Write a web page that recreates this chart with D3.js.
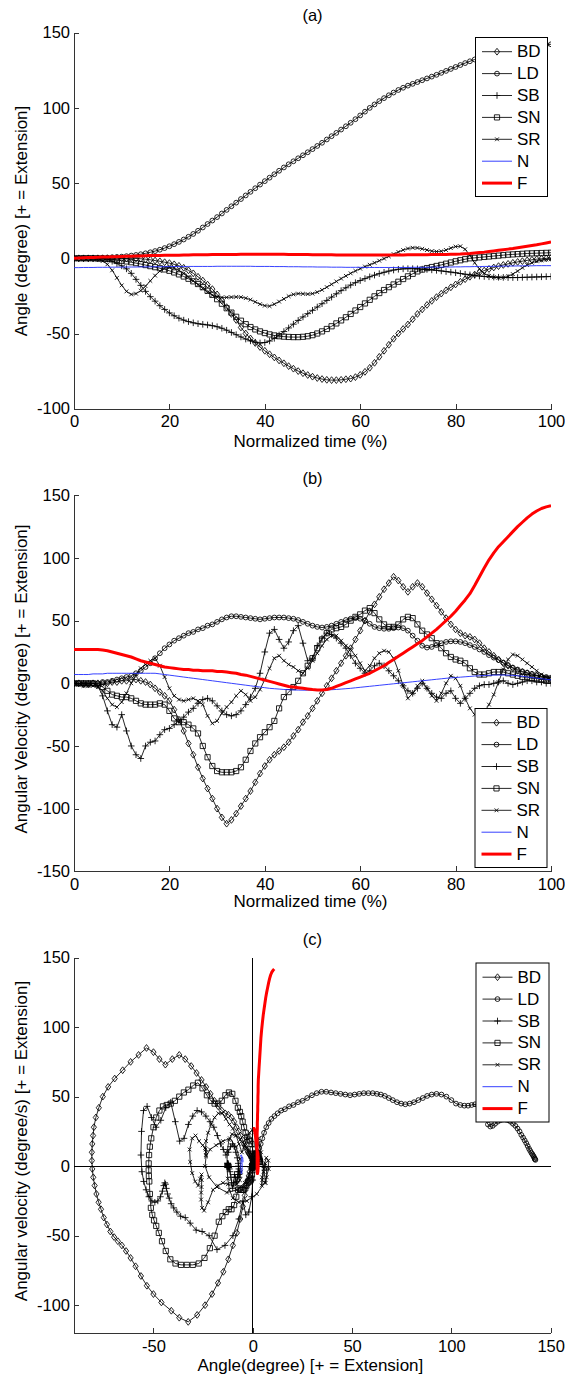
<!DOCTYPE html>
<html>
<head>
<meta charset="utf-8">
<script src="https://cdn.jsdelivr.net/npm/d3@7"></script>
<style>
  body { margin: 0; background: #fff; }
  svg { display: block; font-family: "Liberation Sans", Arial, sans-serif; }
</style>
</head>
<body>
<svg id="fig" width="565" height="1379"></svg>
<script>
// Normalized time samples (0..100 %)
const timePct = d3.range(0, 101);
const seriesNames = ["BD", "LD", "SB", "SN", "SR", "N", "F"];

// Joint angle (degree), one value per percent of normalized time
const angleBD = [
  0, 0, 0, 0, 0, 0, 0, 0, 0, 0,
  0, 0, 0, -0.1, -0.3, -0.6, -1, -1.5, -2, -2.6,
  -3.2, -4, -5, -6.3, -8, -10, -12.3, -14.8, -17.5, -20.5,
  -24, -28, -32.5, -37, -41, -46, -50, -53.3, -56.3, -59,
  -61.5, -63.8, -65.9, -67.9, -69.8, -71.7, -73.4, -75, -76.4, -77.6,
  -78.7, -79.6, -80.3, -80.8, -81, -81, -80.8, -80.4, -80, -79,
  -77.5, -75.5, -72.8, -69.5, -65.5, -61.5, -57.5, -53.5, -50, -47,
  -44, -40.5, -37, -34, -31, -28.3, -25.8, -23.5, -21.3, -19.3,
  -17.4, -15.6, -13.9, -12.3, -10.8, -9.4, -8.2, -7.1, -6.1, -5.2,
  -4.4, -3.7, -3, -2.4, -1.9, -1.4, -1, -0.6, -0.3, 0,
  0.3
];
const angleLD = [
  0, 0, 0.1, 0.1, 0.2, 0.3, 0.4, 0.5, 0.7, 0.9,
  1.1, 1.4, 1.8, 2.2, 2.7, 3.3, 4, 4.8, 5.7, 6.8,
  8, 9.4, 10.9, 12.5, 14.3, 16.2, 18.3, 20.5, 22.8, 25.1,
  27.4, 29.8, 32.2, 34.6, 37, 39.4, 41.8, 44.2, 46.6, 49,
  51.3, 53.6, 55.9, 58.2, 60.4, 62.5, 64.5, 66.5, 68.5, 70.5,
  72.6, 74.7, 76.8, 79, 81.2, 83.4, 85.6, 87.8, 90.1, 92.5,
  95, 97.5, 100, 102.3, 104.5, 106.5, 108.4, 110.2, 111.9, 113.4,
  114.8, 116, 117.2, 118.4, 119.6, 120.8, 122, 123.3, 124.6, 125.9,
  127.2, 128.5, 129.8, 131, 132.2, 133.3, 134.3, 135.2, 136.1, 136.9,
  137.7, 138.4, 139.1, 139.7, 140.3, 140.8, 141.2, 141.6, 141.9, 142.1,
  142.3
];
const angleSB = [
  0, 0, 0, 0, 0, 0, 0, -0.5, -2, -3.5,
  -5, -7, -10, -14, -18, -22, -25.5, -28.5, -31.5, -34,
  -36.3, -38.2, -39.8, -41.1, -42.1, -42.9, -43.5, -43.9, -44.3, -44.8,
  -45.5, -46.5, -47.8, -49.3, -50.8, -52.3, -53.7, -54.9, -55.8, -56.3,
  -56, -55, -53.2, -51, -48.7, -46.3, -43.8, -41.3, -39, -36.8,
  -34.6, -32.4, -30.2, -28, -25.8, -23.6, -21.5, -19.6, -17.8, -16.2,
  -14.8, -13.5, -12.3, -11.2, -10.2, -9.3, -8.5, -7.8, -7.3, -7,
  -6.9, -6.9, -7, -7.2, -7.4, -7.7, -8, -8.4, -8.8, -9.2,
  -9.6, -10.1, -10.6, -11, -11.4, -11.8, -12.1, -12.3, -12.5, -12.6,
  -12.7, -12.8, -12.8, -12.8, -12.7, -12.6, -12.5, -12.4, -12.3, -12.2,
  -12.1
];
const angleSN = [
  0, 0, 0, 0, 0, -0.1, -0.2, -0.4, -0.7, -1.1,
  -1.6, -2.1, -2.6, -3.2, -3.8, -4.5, -5.2, -5.9, -6.6, -7.4,
  -8.3, -9.4, -10.7, -12.1, -13.6, -15.3, -17.1, -19.2, -21.6, -24.3,
  -27.2, -30.2, -33.2, -36.1, -38.9, -41.5, -43.8, -45.7, -47.3, -48.6,
  -49.7, -50.6, -51.3, -51.8, -52.1, -52.3, -52.4, -52.4, -52.2, -51.8,
  -51.1, -50, -48.6, -47, -45.2, -43.3, -41.3, -39.2, -37, -34.7,
  -32.4, -30, -27.6, -25.3, -23.1, -21.1, -19.2, -17.4, -15.6, -13.8,
  -12, -10.3, -8.7, -7.5, -6.5, -5.8, -5.1, -4.4, -3.6, -2.8,
  -2, -1.3, -0.6, 0, 0.3, 0.6, 0.9, 1.2, 1.5, 1.8,
  2.1, 2.4, 2.6, 2.8, 3, 3.2, 3.3, 3.4, 3.5, 3.6,
  3.7
];
const angleSR = [
  0, 0, 0, -0.2, -0.4, -0.8, -1.8, -4, -8, -13,
  -18, -22, -24, -23.5, -21.5, -18.5, -15, -11.5, -8.5, -6.5,
  -6, -6.5, -8, -10, -12.5, -15, -17.5, -20, -22.5, -24.5,
  -25.5, -26, -26, -25.8, -25.7, -25.8, -26.5, -27.5, -29, -30.5,
  -31.5, -31.8, -30.5, -28.8, -27, -25.2, -24, -23.5, -23.6, -23.8,
  -23.5, -22.5, -21, -19.2, -17.3, -15.4, -13.5, -11.7, -10, -8.4,
  -6.9, -5.5, -4.3, -3, -1.6, -0.2, 1.3, 2.8, 4.2, 5.5,
  6.5, 7, 6.9, 6.3, 5.5, 4.8, 4.5, 4.7, 5.5, 6.8,
  7.8, 8, 6, 2, -3, -7, -10, -11.8, -12.6, -13,
  -12.8, -12, -10.5, -8.5, -6.3, -4.5, -3, -2, -1.3, -0.8,
  -0.5
];
const angleN = [
  -6.2, -6.2, -6.1, -6.1, -6.1, -6, -6, -6, -5.9, -5.9,
  -5.9, -5.8, -5.8, -5.8, -5.7, -5.7, -5.7, -5.6, -5.6, -5.6,
  -5.5, -5.5, -5.5, -5.5, -5.4, -5.4, -5.4, -5.4, -5.4, -5.4,
  -5.3, -5.3, -5.3, -5.3, -5.3, -5.3, -5.3, -5.3, -5.4, -5.4,
  -5.4, -5.4, -5.5, -5.5, -5.5, -5.6, -5.6, -5.6, -5.7, -5.7,
  -5.7, -5.8, -5.8, -5.8, -5.9, -5.9, -5.9, -6, -6, -6,
  -6, -6.1, -6.1, -6.1, -6.1, -6.1, -6.1, -6.1, -6.1, -6.1,
  -6.1, -6, -6, -6, -6, -5.9, -5.9, -5.9, -5.8, -5.8,
  -5.7, -5.7, -5.6, -5.6, -5.5, -5.5, -5.4, -5.4, -5.3, -5.3,
  -5.2, -5.2, -5.1, -5.1, -5, -5, -5, -4.9, -4.9, -4.9,
  -4.9
];
const angleF = [
  0, 0.2, 0.4, 0.5, 0.6, 0.7, 0.8, 0.9, 1, 1.1,
  1.2, 1.3, 1.4, 1.5, 1.6, 1.7, 1.8, 1.9, 1.9, 2,
  2, 2.1, 2.1, 2.2, 2.2, 2.3, 2.3, 2.4, 2.4, 2.5,
  2.5, 2.5, 2.6, 2.6, 2.6, 2.7, 2.7, 2.7, 2.7, 2.7,
  2.7, 2.7, 2.7, 2.7, 2.7, 2.6, 2.6, 2.6, 2.5, 2.5,
  2.4, 2.4, 2.3, 2.3, 2.3, 2.2, 2.2, 2.2, 2.2, 2.2,
  2.2, 2.2, 2.2, 2.2, 2.2, 2.2, 2.2, 2.2, 2.2, 2.2,
  2.3, 2.3, 2.3, 2.4, 2.4, 2.5, 2.5, 2.6, 2.6, 2.7,
  2.7, 2.8, 3, 3.2, 3.5, 3.8, 4.1, 4.5, 4.9, 5.3,
  5.7, 6.1, 6.5, 7, 7.5, 8, 8.5, 9, 9.6, 10.2,
  10.8
];

// Angular velocity (degree/s), same time base
const velocityBD = [
  0, 0, -1, -1, 0, 0, 0, 0, 1, 1,
  2, 2, 3, 3, 2, 1, -1, -4, -7, -10,
  -14, -21, -29, -38, -48, -57, -67, -76, -84, -92,
  -100, -107, -112, -109, -104, -98, -92, -86, -79, -72,
  -66, -61, -57, -54, -51, -47, -42, -37, -31, -26,
  -20, -14, -8, -2, 4, 10, 16, 22, 28, 35,
  42, 50, 57, 63, 69, 75, 80, 85, 82, 77,
  73, 77, 80, 77, 72, 67, 62, 57, 52, 47,
  43, 40, 38, 37, 35, 32, 28, 25, 22, 19,
  16, 14, 12, 10, 9, 8, 7, 6, 5, 4,
  3
];
const velocityLD = [
  0, 0, 0, 0, 0, 0, 1, 1, 2, 3,
  4, 5, 6, 8, 10, 13, 16, 20, 24, 28,
  31, 34, 36, 38, 40, 41, 43, 44, 46, 47,
  49, 51, 52.5, 53.5, 53.5, 53, 52.5, 52, 51.5, 51,
  51.5, 52, 52.5, 52.5, 52.5, 52, 51.5, 50.5, 49, 47.5,
  46, 45, 44.5, 45, 46, 47.5, 49, 50.5, 51.5, 52,
  51.5, 50, 47.5, 45, 44, 43.5, 43.5, 44, 44.5, 44,
  42, 38, 34, 30, 28.5, 29, 30.5, 32, 33, 33.5,
  33.5, 33, 32, 30.5, 29, 27, 25, 22.5, 20.5, 18.5,
  16.5, 14.5, 12.5, 11, 9.5, 8.5, 7.5, 6.5, 5.5, 5,
  4.5
];
const velocitySB = [
  0, 0, 0, 0, 0, -2, -10, -22, -33, -35,
  -25, -38, -50, -57, -60, -50, -47, -46, -41, -37,
  -36, -33, -30, -27, -23, -20, -16, -13, -12, -14,
  -18, -22, -25, -26, -25, -22, -17, -11, -4, 8,
  25, 40, 43, 35, 28, 33, 42, 46, 32, 18,
  20, 30, 36, 40, 39, 36, 32, 28, 22, 16,
  12, 8, 10, 14, 16, 14, 10, 6, 2, -2,
  -6, -8, -4, 0, -4, -8, -11, -12, -8, -6,
  -12, -16, -12, -8, -4, -2, -1, -1, 0, 1,
  2, 0, -1, 0, 1, 2, 2, 1, 1, 0,
  0
];
const velocitySN = [
  0, 0, 0, 0, 0, -1, -3, -6, -9, -10,
  -11, -11, -12, -14, -16, -17, -17, -17, -16, -17,
  -22, -28, -31, -31, -33, -36, -40, -50, -59, -66,
  -70, -71, -71, -71, -70, -67, -61, -54, -48, -43,
  -39, -35, -30, -20, -11, -7, -3, 2, 8, 14,
  20, 28, 35, 40, 43, 44, 45, 47, 50, 53,
  55, 58, 60, 56, 51, 47, 45, 45, 47, 51,
  53, 52, 47, 42, 39, 36, 32, 28, 24, 21,
  19, 18, 16, 12, 9, 7, 7, 8, 9, 9,
  9, 8, 7, 6, 5, 5, 4, 4, 3, 3,
  3
];
const velocitySR = [
  0, -1, -2, -2, -2, -3, -6, -12, -17, -19,
  -15, -8, 0, 7, 12, 15, 18, 20, 14, 5,
  -4, -10, -13, -14, -13, -12, -14, -17, -26, -32,
  -30, -24, -19, -15, -10, -6, -9, -14, -11, -5,
  3, 12, 20, 22, 18, 15, 13, 10, 8, 12,
  18, 24, 30, 35, 38, 38, 34, 30, 27, 22,
  16, 10, 14, 20, 24, 26, 25, 20, 10, -2,
  -12, -8, -2, 2, -4, -10, -14, -8, 0, 6,
  4, -2, -12, -20, -25, -26, -23, -17, -9, 1,
  11, 19, 23, 22, 19, 16, 13, 10, 7, 5,
  3
];
const velocityN = [
  7, 7, 7, 7, 7.5, 7.5, 7.5, 8, 8, 8,
  8, 8, 8, 8, 8, 8, 8, 8, 7.5, 7,
  6.5, 6, 5.5, 5, 4.5, 4, 3.5, 3, 2.5, 2,
  1.5, 1, 0.5, 0, -0.5, -1, -1.5, -2, -2.5, -3,
  -3.5, -4, -4.3, -4.6, -4.9, -5.1, -5.3, -5.4, -5.5, -5.5,
  -5.5, -5.5, -5.4, -5.3, -5.1, -4.9, -4.6, -4.3, -4, -3.6,
  -3.2, -2.8, -2.4, -2, -1.6, -1.2, -0.8, -0.4, 0, 0.4,
  0.8, 1.2, 1.6, 2, 2.4, 2.8, 3.2, 3.6, 4, 4.3,
  4.6, 4.9, 5.2, 5.5, 5.8, 6, 6.2, 6.4, 6.5, 6.6,
  6.6, 6.5, 6.3, 6, 5.6, 5.1, 4.6, 4.1, 3.6, 3.2,
  2.8
];
const velocityF = [
  27, 27, 27, 27, 27, 27, 26.5, 26, 25, 24,
  23, 22, 21, 19.5, 18, 17, 16, 15, 14, 13,
  12.5, 12, 11.5, 11, 11, 10.5, 10.5, 10, 10, 10,
  9.5, 9.5, 9, 8.5, 8, 7, 6.5, 5.5, 4.5, 3.5,
  2.5, 1.5, 0.5, -0.5, -1.5, -2.5, -3, -3.5, -4, -4.5,
  -5, -5.3, -5.3, -5, -4, -2.5, -1, 0.5, 2, 3.5,
  5, 6.5, 8, 10, 12, 14, 16.5, 19, 21.5, 24,
  26.5, 29, 31.5, 34, 37, 40, 43, 46.5, 50, 53.5,
  57.5, 62, 66.5, 71.5, 78, 85, 92, 98.5, 104, 109,
  113, 117, 121, 125, 128.5, 132, 135, 137.5, 139.5, 140.8,
  141.8
];

// Tick values
const timeTicks = [0, 20, 40, 60, 80, 100];
const angleTicks = [-100, -50, 0, 50, 100, 150];
const velocityTicks = [-150, -100, -50, 0, 50, 100, 150];
const phaseAngleTicks = [-50, 0, 50, 100, 150];
const phaseVelocityTicks = [-100, -50, 0, 50, 100, 150];

const angleBy = { BD: angleBD, LD: angleLD, SB: angleSB, SN: angleSN, SR: angleSR, N: angleN, F: angleF };
const velocityBy = { BD: velocityBD, LD: velocityLD, SB: velocitySB, SN: velocitySN, SR: velocitySR, N: velocityN, F: velocityF };

// Line / marker style per series
const styleBy = {
  BD: { marker: "diamond", color: "#000", width: 0.85 },
  LD: { marker: "circle",  color: "#000", width: 0.85 },
  SB: { marker: "plus",    color: "#000", width: 0.85 },
  SN: { marker: "square",  color: "#000", width: 0.85 },
  SR: { marker: "cross",   color: "#000", width: 0.85 },
  N:  { marker: null,      color: "#1f2bff", width: 0.9 },
  F:  { marker: null,      color: "#ff0000", width: 3 }
};

const series = seriesNames.map(name => ({
  name,
  points: timePct.map((t, i) => ({ t, angle: angleBy[name][i], velocity: velocityBy[name][i] })),
  ...styleBy[name]
}));

function markerPath(type) {
  switch (type) {
    case "diamond": return "M0,-3.4L2.6,0L0,3.4L-2.6,0Z";
    case "circle":  return "M2.4,0A2.4,2.4,0,1,1,-2.4,0A2.4,2.4,0,1,1,2.4,0Z";
    case "plus":    return "M-3.3,0H3.3M0,-3.3V3.3";
    case "square":  return "M-2.6,-2.6H2.6V2.6H-2.6Z";
    case "cross":   return "M-1.9,-1.9L1.9,1.9M-1.9,1.9L1.9,-1.9";
  }
  return "";
}

const svg = d3.select("#fig");
const FONT = 16.5;

function drawPanel(cfg) {
  const g = svg.append("g");
  const x = cfg.x, y = cfg.y;
  const [x0, x1] = x.range();
  const [yb, yt] = y.range();

  const clipId = "clip-" + cfg.id;
  svg.append("clipPath").attr("id", clipId)
    .append("rect").attr("x", x0).attr("y", yt).attr("width", x1 - x0).attr("height", yb - yt);

  // axes (left and bottom, inward ticks)
  const axisColor = "#333";
  const ax = g.append("g").attr("transform", `translate(0,${yb})`)
    .call(d3.axisBottom(x).tickValues(cfg.xTicks).tickSize(-5).tickSizeOuter(0).tickPadding(7));
  const ay = g.append("g").attr("transform", `translate(${x0},0)`)
    .call(d3.axisLeft(y).tickValues(cfg.yTicks).tickSize(-5).tickSizeOuter(0).tickPadding(4));
  [ax, ay].forEach(a => {
    a.selectAll("path,line").attr("stroke", axisColor).attr("shape-rendering", "crispEdges");
    a.selectAll("text").attr("fill", "#000").style("font-size", FONT + "px")
      .style("font-family", '"Liberation Sans", Arial, sans-serif')
      .text(d => String(d));
  });

  // zero reference lines for the phase plane
  if (cfg.zeroLines) {
    g.append("line").attr("x1", x0).attr("x2", x1).attr("y1", y(0)).attr("y2", y(0))
      .attr("stroke", "#000").attr("stroke-width", 1).attr("shape-rendering", "crispEdges");
    g.append("line").attr("x1", x(0)).attr("x2", x(0)).attr("y1", yb).attr("y2", yt)
      .attr("stroke", "#000").attr("stroke-width", 1).attr("shape-rendering", "crispEdges");
  }

  const plot = g.append("g").attr("clip-path", `url(#${clipId})`);
  const line = d3.line().x(d => x(d[cfg.xKey])).y(d => y(d[cfg.yKey]));

  series.forEach(s => {
    const sg = plot.append("g");
    sg.append("path").attr("d", line(s.points)).attr("fill", "none")
      .attr("stroke", s.color).attr("stroke-width", s.width).attr("stroke-linejoin", "round");
    if (s.marker) {
      sg.selectAll("path.m").data(s.points).join("path").attr("class", "m")
        .attr("transform", d => `translate(${x(d[cfg.xKey])},${y(d[cfg.yKey])})`)
        .attr("d", markerPath(s.marker))
        .attr("fill", "none").attr("stroke", s.color).attr("stroke-width", 0.85);
    }
  });

  // title
  g.append("text").attr("x", (x0 + x1) / 2).attr("y", cfg.titleY)
    .attr("text-anchor", "middle").attr("dominant-baseline", "central")
    .style("font-size", FONT + "px").text(cfg.title);

  // axis labels
  g.append("text").attr("x", (x0 + x1) / 2 - 2).attr("y", cfg.xLabelY)
    .attr("text-anchor", "middle").attr("dominant-baseline", "central")
    .style("font-size", "17px").text(cfg.xLabel);
  g.append("text").attr("transform", `translate(21.5,${cfg.yLabelY}) rotate(-90)`)
    .attr("text-anchor", "middle").attr("dominant-baseline", "central")
    .style("font-size", "17px").text(cfg.yLabel);

  // legend
  const L = cfg.legend;
  const lg = g.append("g").attr("transform", `translate(${L.x},${L.y})`);
  lg.append("rect").attr("x", 0.5).attr("y", 0.5).attr("width", L.w).attr("height", L.h)
    .attr("fill", "#fff").attr("stroke", "#000").attr("stroke-width", 1);
  series.forEach((s, i) => {
    const ry = 14.7 + i * 21.9;
    lg.append("line").attr("x1", 7).attr("x2", 37).attr("y1", ry).attr("y2", ry)
      .attr("stroke", s.color).attr("stroke-width", s.width);
    if (s.marker) {
      lg.append("path").attr("transform", `translate(22,${ry})`).attr("d", markerPath(s.marker))
        .attr("fill", "none").attr("stroke", s.color).attr("stroke-width", 0.85);
    }
    lg.append("text").attr("x", 42).attr("y", ry).attr("dominant-baseline", "central")
      .style("font-size", "17px").text(s.name);
  });
}

drawPanel({
  id: "a", title: "(a)", titleY: 15,
  x: d3.scaleLinear().domain([0, 100]).range([74, 551]),
  y: d3.scaleLinear().domain([-100, 150]).range([408.7, 32.7]),
  xKey: "t", yKey: "angle", xTicks: timeTicks, yTicks: angleTicks,
  xLabel: "Normalized time (%)", xLabelY: 441.7,
  yLabel: "Angle (degree) [+ = Extension]", yLabelY: 221,
  legend: { x: 475, y: 37, w: 72, h: 159 }
});

drawPanel({
  id: "b", title: "(b)", titleY: 478.3,
  x: d3.scaleLinear().domain([0, 100]).range([74, 551]),
  y: d3.scaleLinear().domain([-150, 150]).range([871.3, 495.3]),
  xKey: "t", yKey: "velocity", xTicks: timeTicks, yTicks: velocityTicks,
  xLabel: "Normalized time (%)", xLabelY: 901.7,
  yLabel: "Angular Velocity (degree) [+ = Extension]", yLabelY: 679,
  legend: { x: 474.5, y: 708, w: 72, h: 159 }
});

drawPanel({
  id: "c", title: "(c)", titleY: 939.3,
  x: d3.scaleLinear().domain([-90, 150]).range([74, 550.7]),
  y: d3.scaleLinear().domain([-120, 150]).range([1333, 957.6]),
  xKey: "angle", yKey: "velocity", xTicks: phaseAngleTicks, yTicks: phaseVelocityTicks,
  zeroLines: true,
  xLabel: "Angle(degree) [+ = Extension]", xLabelY: 1365.7,
  yLabel: "Angular velocity (degree/s) [+ = Extension]", yLabelY: 1141,
  legend: { x: 475.5, y: 962.5, w: 73, h: 159 }
});
</script>
</body>
</html>
